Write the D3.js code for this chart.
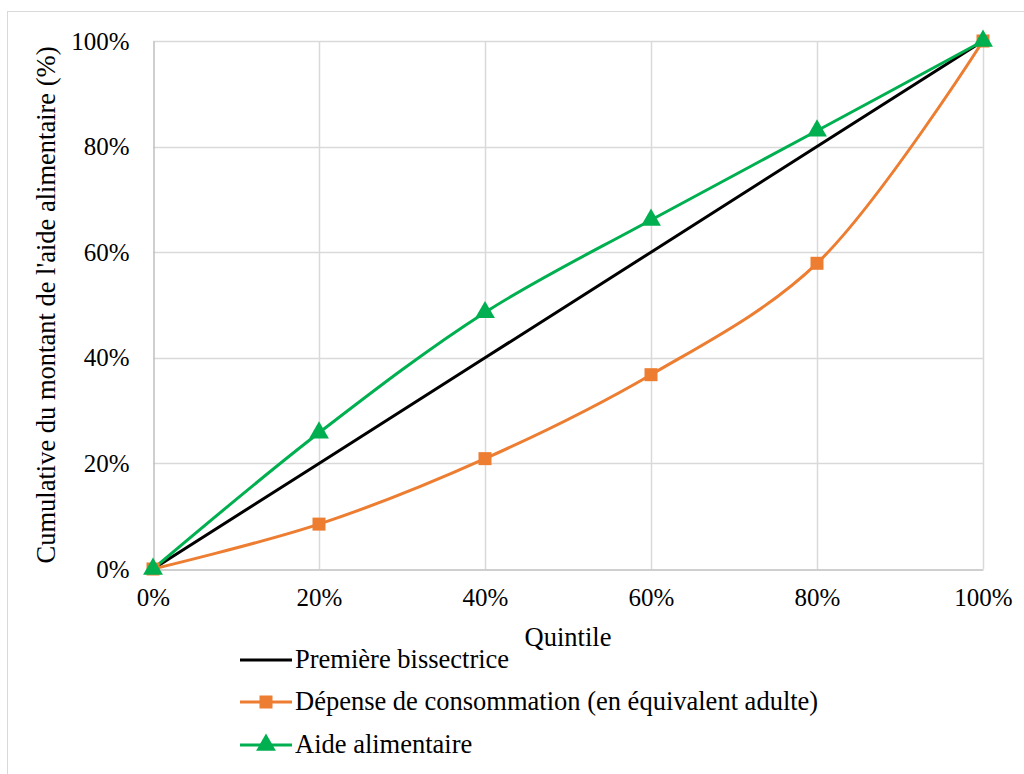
<!DOCTYPE html>
<html>
<head>
<meta charset="utf-8">
<script src="https://cdn.jsdelivr.net/npm/d3@7"></script>
</head>
<body style="margin:0;background:#fff">
<svg id="chart" width="1024" height="774"></svg>
<script>
// Quintiles (share of population, %)
const quintiles = [0, 20, 40, 60, 80, 100];
const tickValues = [0, 20, 40, 60, 80, 100];

// Cumulative shares (%)
const bisectrice = [0, 20, 40, 60, 80, 100];
const depenseConsommation = [0, 8.5, 20.9, 36.8, 57.9, 100];
const aideAlimentaire = [0, 25.8, 48.6, 66.1, 83.0, 100];

const seriesNames = [
  "Première bissectrice",
  "Dépense de consommation (en équivalent adulte)",
  "Aide alimentaire"
];

const FONT = "Liberation Serif";
const FS_TICK = "25px";
const FS = "26.5px";

const svg = d3.select("#chart");
const plot = { left: 153, right: 983, top: 41, bottom: 569 };

// Outer chart frame
svg.append("rect")
  .attr("x", 7.5).attr("y", 11.5)
  .attr("width", 1100).attr("height", 1000)
  .attr("fill", "#fff").attr("stroke", "#d9d9d9").attr("stroke-width", 1);

const x = d3.scaleLinear().domain([0, 100]).range([plot.left, plot.right]);
const y = d3.scaleLinear().domain([0, 100]).range([plot.bottom, plot.top]);
const fmt = d => d + "%";

// Grid lines
const grid = svg.append("g");
grid.selectAll("line.h").data(tickValues.slice(1)).join("line")
  .attr("x1", plot.left).attr("x2", plot.right)
  .attr("y1", d => Math.round(y(d)) + 0.5).attr("y2", d => Math.round(y(d)) + 0.5)
  .attr("stroke", "#d9d9d9").attr("stroke-width", 1.5);
grid.selectAll("line.v").data(tickValues.slice(1)).join("line")
  .attr("y1", plot.top).attr("y2", plot.bottom)
  .attr("x1", d => Math.round(x(d)) + 0.5).attr("x2", d => Math.round(x(d)) + 0.5)
  .attr("stroke", "#d9d9d9").attr("stroke-width", 1.5);

// Axes
const xAxis = svg.append("g")
  .attr("transform", `translate(0,${plot.bottom + 0.5})`)
  .call(d3.axisBottom(x).tickValues(tickValues).tickFormat(fmt).tickSize(0).tickPadding(19));
const yAxis = svg.append("g")
  .attr("transform", `translate(${plot.left + 0.5},0)`)
  .call(d3.axisLeft(y).tickValues(tickValues).tickFormat(fmt).tickSize(0).tickPadding(24));
[xAxis, yAxis].forEach(g => {
  g.select(".domain").attr("stroke", "#bfbfbf").attr("stroke-width", 1.5);
  g.selectAll("text").style("font-family", FONT).style("font-size", FS_TICK).attr("fill", "#000");
});

// Axis titles
svg.append("text")
  .attr("x", (plot.left + plot.right) / 2).attr("y", 646)
  .attr("text-anchor", "middle").style("font-family", FONT).style("font-size", FS).text("Quintile");
svg.append("text")
  .attr("transform", `translate(55,${(plot.top + plot.bottom) / 2}) rotate(-90)`)
  .attr("text-anchor", "middle").style("font-family", FONT).style("font-size", FS)
  .text("Cumulative du montant de l'aide alimentaire (%)");

// Series lines
const smooth = d3.line().x((d, i) => x(quintiles[i])).y(d => y(d)).curve(d3.curveCatmullRom.alpha(0.5));
const straight = d3.line().x((d, i) => x(quintiles[i])).y(d => y(d));

svg.append("path").datum(bisectrice).attr("d", straight)
  .attr("fill", "none").attr("stroke", "#000").attr("stroke-width", 3);
svg.append("path").datum(depenseConsommation).attr("d", smooth)
  .attr("fill", "none").attr("stroke", "#ED7D31").attr("stroke-width", 3);
svg.append("path").datum(aideAlimentaire).attr("d", smooth)
  .attr("fill", "none").attr("stroke", "#00B050").attr("stroke-width", 3);

// Markers
const sq = d3.symbol().type(d3.symbolSquare).size(169);
const tri = d3.symbol().type(d3.symbolTriangle).size(170);
svg.append("g").selectAll("path").data(depenseConsommation).join("path")
  .attr("d", sq).attr("transform", (d, i) => `translate(${x(quintiles[i])},${y(d)})`)
  .attr("fill", "#ED7D31");
svg.append("g").selectAll("path").data(aideAlimentaire).join("path")
  .attr("d", tri).attr("transform", (d, i) => `translate(${x(quintiles[i])},${y(d)})`)
  .attr("fill", "#00B050");

// Legend
const legendRows = [
  { name: seriesNames[0], color: "#000", marker: null, y: 660 },
  { name: seriesNames[1], color: "#ED7D31", marker: sq, y: 702 },
  { name: seriesNames[2], color: "#00B050", marker: tri, y: 745 }
];
const lg = svg.append("g");
legendRows.forEach(r => {
  lg.append("line").attr("x1", 240).attr("x2", 292).attr("y1", r.y).attr("y2", r.y)
    .attr("stroke", r.color).attr("stroke-width", 3);
  if (r.marker) {
    lg.append("path").attr("d", r.marker).attr("transform", `translate(266,${r.y})`).attr("fill", r.color);
  }
  lg.append("text").attr("x", 295).attr("y", r.y + 8).style("font-family", FONT).style("font-size", FS).text(r.name);
});
</script>
</body>
</html>
